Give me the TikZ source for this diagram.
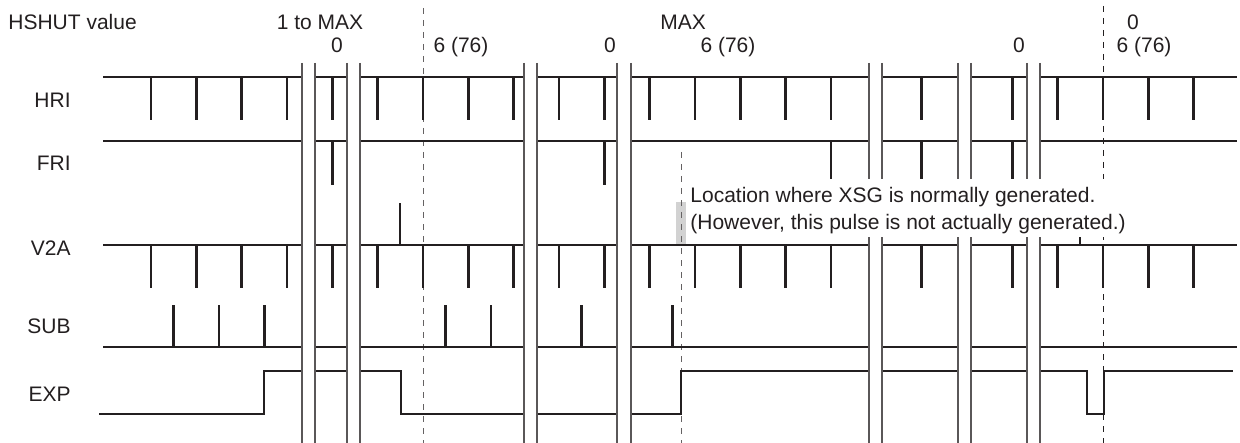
\documentclass[tikz,border=0pt]{standalone}
\usepackage{fontspec}
\setmainfont{Liberation Sans}
\definecolor{ink}{RGB}{35,31,32}
\tikzset{
  sig/.style={line width=1.3pt,ink},
  brk/.style={line width=0.55pt,ink!75},
  guide/.style={line width=0.5pt,dash pattern=on 3pt off 3pt},
  lbl/.style={font=\fontsize{10.5}{13}\selectfont,text=ink,inner sep=0pt},
}
\begin{document}
\begin{tikzpicture}[x=0.5pt,y=-0.5pt]
\useasboundingbox (0,0) rectangle (1240,443);
\node[lbl,anchor=base west] (hshut) at (8,30) {HSHUT value};
\node[lbl,anchor=base] (tmax) at (320,30) {1 to MAX};
\node[lbl,anchor=base] (zA) at (337,53) {0};
\node[lbl,anchor=base] (sA) at (461,53) {6 (76)};
\node[lbl,anchor=base] (zB) at (610,53) {0};
\node[lbl,anchor=base] (vmax) at (683,30) {MAX};
\node[lbl,anchor=base] (sB) at (728,53) {6 (76)};
\node[lbl,anchor=base] (zC) at (1019,53) {0};
\node[lbl,anchor=base] (zD) at (1133,30) {0};
\node[lbl,anchor=base] (sC) at (1144,53) {6 (76)};
\node[lbl,anchor=base east] (hri) at (71,108) {HRI};
\node[lbl,anchor=base east] (fri) at (71,170) {FRI};
\node[lbl,anchor=base east] (v2a) at (71,255) {V2A};
\node[lbl,anchor=base east] (sub) at (71,333) {SUB};
\node[lbl,anchor=base east] (exp) at (71,401) {EXP};
\draw[guide,ink!70] (423,8) -- (423,443);
\fill[gray!35] (676,202) rectangle (686,244);
\draw[guide,ink!70] (681,152) -- (681,443);
\draw[guide,ink] (1103,6) -- (1103,443);
\draw[sig] (103,77) -- (1237,77);
\foreach \k in {0,...,23} \draw[sig] ({151+45.33*\k},77) -- ++(0,43);
\draw[sig] (103,141) -- (1237,141);
\foreach \x in {332.3,604.3,831,921.7,1012.3} \draw[sig] (\x,141) -- ++(0,44);
\draw[sig] (103,245) -- (1237,245);
\foreach \k in {0,...,23} \draw[sig] ({151+45.33*\k},245) -- ++(0,43);
\foreach \x in {400,1080} \draw[sig] (\x,245) -- ++(0,-42);
\draw[sig] (103,347) -- (1237,347);
\foreach \x in {173.7,219,264.3,445.7,491,581.7,672.3} \draw[sig] (\x,347) -- ++(0,-42);
\draw[sig] (99,414) -| (264,371) -| (401,414) -| (681,371) -| (1087,414) -| (1104,371) -- (1233,371);
\foreach \a/\b in {302/315,347/360,524/537,617/631,869/882,958/971,1027/1040} {
  \fill[white] (\a,63) rectangle (\b,443);
  \draw[brk] (\a,63) -- (\a,443) (\b,63) -- (\b,443);
}
\fill[white] (688,179) rectangle (1131,237);
\node[lbl,anchor=base west] (noteA) at (690,203) {Location where XSG is normally generated.};
\node[lbl,anchor=base west] (noteB) at (690,229) {(However, this pulse is not actually generated.)};
\end{tikzpicture}
\end{document}
